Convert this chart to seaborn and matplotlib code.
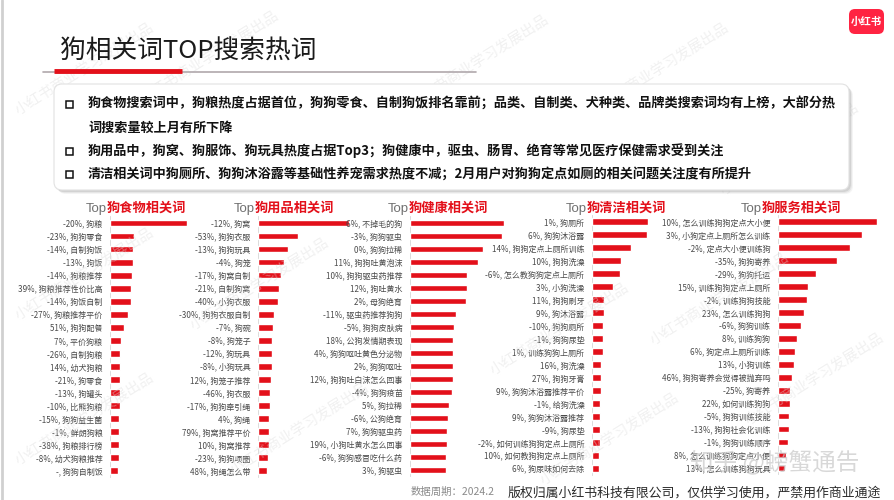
import matplotlib
matplotlib.use("Agg")
import matplotlib.pyplot as plt
import seaborn as sns
import pandas as pd
from matplotlib.patches import FancyBboxPatch, Rectangle
from matplotlib.lines import Line2D
from matplotlib.transforms import Affine2D

# ---------------- data ----------------
title = "狗相关词TOP搜索热词"
bullets = [
    "狗食物搜索词中，狗粮热度占据首位，狗狗零食、自制狗饭排名靠前；品类、自制类、犬种类、品牌类搜索词均有上榜，大部分热",
    "词搜索量较上月有所下降",
    "狗用品中，狗窝、狗服饰、狗玩具热度占据Top3；狗健康中，驱虫、肠胃、绝育等常见医疗保健需求受到关注",
    "清洁相关词中狗厕所、狗狗沐浴露等基础性养宠需求热度不减；2月用户对狗狗定点如厕的相关问题关注度有所提升",
]
bullet_marked = [True, False, True, True]

panel_titles = ["狗食物相关词", "狗用品相关词", "狗健康相关词", "狗清洁相关词", "狗服务相关词"]

food_terms = ["狗粮", "狗狗零食", "自制狗饭", "狗饭", "狗粮推荐", "狗粮推荐性价比高", "狗饭自制", "狗粮推荐平价",
              "狗狗配餐", "平价狗粮", "自制狗粮", "幼犬狗粮", "狗零食", "狗罐头", "比熊狗粮", "狗狗益生菌",
              "鲜朗狗粮", "狗粮排行榜", "幼犬狗粮推荐", "狗狗自制饭"]
food_change = ["-20%", "-23%", "-14%", "-13%", "-14%", "39%", "-14%", "-27%", "51%", "7%", "-26%", "14%",
               "-21%", "-13%", "-10%", "-15%", "-1%", "-38%", "-8%", "-"]
food_heat = [100, 31, 30, 30, 28.5, 27, 27, 23, 18, 14, 13, 13, 13, 12.6, 12.6, 12.3, 12.3, 12, 12, 10.4]

supply_terms = ["狗窝", "狗狗衣服", "狗狗玩具", "狗笼", "狗窝自制", "自制狗窝", "小狗衣服", "狗狗衣服自制", "狗碗",
                "狗笼子", "狗玩具", "小狗玩具", "狗笼子推荐", "狗衣服", "狗狗牵引绳", "狗绳", "狗窝推荐平价",
                "狗窝推荐", "狗狗项圈", "狗绳怎么带"]
supply_change = ["-12%", "-53%", "-13%", "-4%", "-17%", "-21%", "-40%", "-30%", "-7%", "-8%", "-12%", "-8%",
                 "12%", "-46%", "-17%", "4%", "79%", "10%", "-23%", "48%"]
supply_heat = [100, 44, 33, 28.6, 25.3, 23, 22, 17.6, 16.5, 15.4, 15.4, 15.4, 14.3, 13.2, 13.2, 12.1, 12.1,
               12.1, 11, 9.9]

health_terms = ["不掉毛的狗", "狗狗驱虫", "狗狗拉稀", "狗狗吐黄泡沫", "狗狗驱虫药推荐", "狗吐黄水", "母狗绝育",
                "驱虫药推荐狗狗", "狗狗皮肤病", "公狗发情期表现", "狗狗呕吐黄色分泌物", "狗狗呕吐",
                "狗狗吐白沫怎么回事", "狗狗疫苗", "狗拉稀", "公狗绝育", "狗狗驱虫药", "小狗吐黄水怎么回事",
                "狗狗感冒吃什么药", "狗驱虫"]
health_change = ["6%", "-3%", "0%", "11%", "10%", "12%", "2%", "-11%", "-5%", "18%", "4%", "2%", "12%",
                 "-4%", "5%", "-6%", "7%", "19%", "-6%", "3%"]
health_heat = [100, 97.6, 77.7, 72.3, 60.6, 60.6, 59.3, 48.9, 46.8, 45.7, 45.7, 45.7, 45.4, 44.4, 41.8,
               40.4, 39.4, 39.4, 38.6, 38.6]

clean_terms = ["狗厕所", "狗狗沐浴露", "狗狗定点上厕所训练", "狗狗洗澡", "怎么教狗狗定点上厕所", "小狗洗澡",
               "狗狗刷牙", "狗沐浴露", "狗狗厕所", "狗狗尿垫", "训练狗狗上厕所", "狗洗澡", "狗狗牙膏",
               "狗狗沐浴露推荐平价", "给狗洗澡", "狗狗沐浴露推荐", "狗尿垫", "如何训练狗狗定点上厕所",
               "如何教狗狗定点上厕所", "狗尿味如何去除"]
clean_change = ["1%", "6%", "14%", "10%", "-6%", "3%", "11%", "9%", "-10%", "-1%", "1%", "16%", "27%", "9%",
                "-1%", "9%", "-9%", "-2%", "10%", "6%"]
clean_heat = [100, 98.2, 69.1, 52.3, 50.5, 38, 21.4, 21.4, 19.6, 19.6, 18.9, 16.6, 16.1, 15.4, 14.8, 14.8,
              14.3, 14.3, 12.5, 12.5]

service_terms = ["怎么训练狗狗定点大小便", "小狗定点上厕所怎么训练", "定点大小便训练狗", "狗狗寄养", "狗狗托运",
                 "训练狗狗定点上厕所", "训练狗狗技能", "怎么训练狗狗", "狗狗训练", "训练狗狗", "狗定点上厕所训练",
                 "小狗训练", "狗狗寄养会觉得被抛弃吗", "狗寄养", "如何训练狗狗", "狗狗训练技能", "狗狗社会化训练",
                 "狗狗训练顺序", "怎么训练狗狗定点小便", "怎么训练狗狗玩具"]
service_change = ["10%", "3%", "-2%", "-35%", "-29%", "15%", "-2%", "23%", "-6%", "8%", "6%", "13%", "46%",
                  "-25%", "22%", "-5%", "-13%", "-1%", "8%", "13%"]
service_heat = [100, 84.5, 73, 59.6, 38.4, 30.3, 29.3, 26.6, 23.5, 19.2, 17.2, 16.5, 14.4, 11.8, 11.8, 11.4,
                10.8, 9.8, 8.4, 7.4]

period_text = "数据周期：2024.2"
copyright_text = "版权归属小红书科技有限公司，仅供学习使用，严禁用作商业通途"

# ---------------- style ----------------
sns.set_theme(style="white")
plt.rcParams["font.family"] = ["Noto Sans CJK SC", "DejaVu Sans"]

W, H = 894, 500
RED = "#e3101a"
fig = plt.figure(figsize=(W / 100, H / 100), dpi=100)
fig.patch.set_facecolor("white")
pix = Affine2D().scale(1 / W, -1 / H).translate(0, 1) + fig.transFigure

# faint watermarks
wm_pos = [(85, 70), (210, 58), (480, 62), (660, 70), (790, 150), (85, 275), (260, 285), (560, 330),
          (720, 300), (85, 420), (300, 430), (610, 440), (815, 380)]
for (x, y) in wm_pos:
    fig.text(x, y, "小红书商业学习发展出品", transform=pix, rotation=32, color="#dcdcdc", alpha=0.4,
             fontsize=10.5, ha="center", va="center", zorder=0)

# left page edge
fig.add_artist(Line2D([1.5, 1.5], [0, 500], transform=pix, color="#d0d0d0", lw=2, zorder=1))

# logo
fig.add_artist(FancyBboxPatch((849, 9), 35, 25, boxstyle="round,pad=0,rounding_size=6",
                              transform=pix, fc="#ff2442", ec="none", zorder=3))
fig.text(866.5, 21.5, "小红书", transform=pix, color="white", fontsize=7.5, fontweight="bold",
         ha="center", va="center", zorder=4)

# main title + underline
fig.text(60, 59, title, transform=pix, fontsize=18.5, color="#1a1a1a", ha="left", va="baseline", zorder=3)
fig.add_artist(Line2D([43, 476], [71.5, 71.5], transform=pix, color="#b0a8ac", lw=1.2, zorder=3))
fig.add_artist(Line2D([54, 182], [71, 71], transform=pix, color=RED, lw=3.5, solid_capstyle="butt", zorder=4))

# text box with soft shadow
for off, a in [(4, 0.10), (3, 0.15), (2, 0.25)]:
    fig.add_artist(FancyBboxPatch((54 + off, 84 + off), 795, 106, boxstyle="round,pad=0,rounding_size=8",
                                  transform=pix, fc="#9a9a9a", ec="none", alpha=a, zorder=2))
fig.add_artist(FancyBboxPatch((54, 84), 795, 106, boxstyle="round,pad=0,rounding_size=8",
                              transform=pix, fc="white", ec="#e2e2e2", lw=0.8, zorder=2.5))
line_y = [104, 128, 151, 174]
for s, mark, y in zip(bullets, bullet_marked, line_y):
    if mark:
        fig.add_artist(Rectangle((66, y - 3.5), 7, 7, transform=pix, fc="white", ec="#111111", lw=1.1, zorder=3))
    fig.text(88, y, s, transform=pix, fontsize=9.45, fontweight="bold", color="#111111",
             ha="left", va="center", zorder=3)

# ---------------- panels ----------------
panels = [
    (food_terms, food_change, food_heat),
    (supply_terms, supply_change, supply_heat),
    (health_terms, health_change, health_heat),
    (clean_terms, clean_change, clean_heat),
    (service_terms, service_change, service_heat),
]
panel_x0 = [110, 258, 410, 592, 778]
panel_w = [77, 91, 94, 56, 99]
panel_row1 = [223, 223, 223, 221.5, 221.5]
panel_rowN = [470.7, 470.5, 470, 468.3, 468]
title_split = [107, 255, 409, 587, 762]

for i, (terms, change, heat) in enumerate(panels):
    step = (panel_rowN[i] - panel_row1[i]) / (len(terms) - 1)
    top = panel_row1[i] - step / 2
    bot = panel_rowN[i] + step / 2
    ax = fig.add_axes([panel_x0[i] / W, 1 - bot / H, panel_w[i] / W, (bot - top) / H])
    ax.set_facecolor("none")
    labels = [f"{c}, {t}" for c, t in zip(change, terms)]
    df = pd.DataFrame({"label": labels, "heat": heat})
    sns.barplot(data=df, x="heat", y="label", orient="h", color=RED, saturation=1, width=0.52,
                ax=ax, zorder=5)
    ax.set_xlim(0, 100)
    ax.set_ylim(len(terms) - 0.5, -0.5)
    ax.set_xlabel("")
    ax.set_ylabel("")
    ax.set_xticks([])
    for sp in ["top", "right", "bottom"]:
        ax.spines[sp].set_visible(False)
    ax.spines["left"].set_color("#d6d6d6")
    ax.spines["left"].set_linewidth(0.6)
    ax.tick_params(axis="y", length=0, pad=5.5, labelsize=5.8, labelcolor="#4a4a4a")
    ax.patch.set_visible(False)
    # panel title
    fig.text(title_split[i], 212, "Top", transform=pix, fontsize=9.5, color="#707070",
             family=["Liberation Sans", "DejaVu Sans"], ha="right", va="baseline", zorder=6)
    fig.text(title_split[i], 212, panel_titles[i], transform=pix, fontsize=9.5, color=RED,
             fontweight="bold", ha="left", va="baseline", zorder=6)

# footer
fig.text(411, 492, period_text, transform=pix, fontsize=7.5, color="#8a8a8a", ha="left", va="center", zorder=6)
fig.text(508, 493, copyright_text, transform=pix, fontsize=9.3, color="#2a2a2a", ha="left", va="center", zorder=6)
fig.text(775, 462, "知乎 @螃蟹通告", transform=pix, fontsize=17, color="#c8c8c8", alpha=0.7,
         ha="center", va="center", zorder=7)

fig.savefig("out.png", dpi=100, facecolor="white")
